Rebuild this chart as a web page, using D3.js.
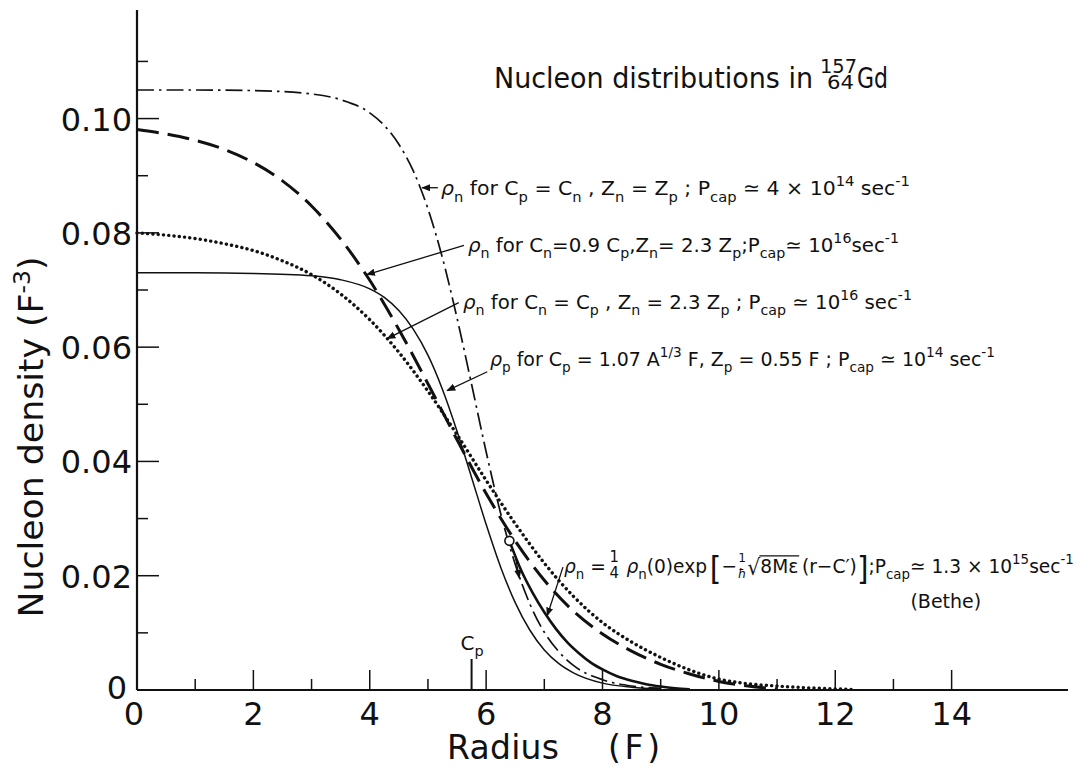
<!DOCTYPE html>
<html>
<head>
<meta charset="utf-8">
<script src="https://cdn.jsdelivr.net/npm/d3@7"></script>
<style>
  body { margin: 0; background: #fff; }
  svg { display: block; }
  text { font-family: "DejaVu Sans", sans-serif; fill: #111; }
</style>
</head>
<body>
<svg id="chart" width="1080" height="768"></svg>
<script>
// radius grid for the sharp (Z = 0.55 F) distributions
rSharp = [0, 1, 2, 3, 3.5, 4, 4.25, 4.5, 4.75, 5, 5.25, 5.5, 5.75, 6, 6.25, 6.5, 6.75, 7, 7.25, 7.5, 8, 8.5, 9]
// rho_n for Cn = Cp, Zn = Zp  (dash-dot)
rhoSame = [0.1050, 0.1050, 0.1049, 0.1043, 0.1033, 0.1010, 0.0988, 0.0955, 0.0908, 0.0842, 0.0756, 0.0651, 0.0535, 0.0417, 0.0309, 0.0220, 0.0151, 0.0101, 0.0067, 0.0043, 0.0018, 0.0007, 0.0003]
// rho_p  (thin solid)
rhoProton = [0.0730, 0.0730, 0.0729, 0.0725, 0.0718, 0.0702, 0.0687, 0.0664, 0.0631, 0.0586, 0.0526, 0.0453, 0.0372, 0.0290, 0.0215, 0.0153, 0.0105, 0.0070, 0.0046, 0.0030, 0.0012, 0.0005, 0.0002]

// rho_n for Cn = 0.9 Cp, Zn = 2.3 Zp  (long dash)
rShrunk = [0, 0.5, 1, 1.5, 2, 2.5, 3, 3.5, 4, 4.5, 5, 5.5, 6, 6.5, 7, 7.5, 8, 8.5, 9, 9.5, 10, 10.5, 11]
rhoShrunk = [0.0981, 0.0973, 0.0962, 0.0946, 0.0923, 0.0891, 0.0847, 0.0789, 0.0717, 0.0631, 0.0536, 0.0438, 0.0344, 0.0261, 0.0192, 0.0138, 0.0098, 0.0068, 0.0045, 0.0028, 0.0015, 0.0007, 0.0002]

// rho_n for Cn = Cp, Zn = 2.3 Zp  (dotted)
rDiffuse = [0, 0.5, 1, 1.5, 2, 2.5, 3, 3.5, 4, 4.5, 5, 5.5, 6, 6.5, 7, 7.5, 8, 8.5, 9, 9.5, 10, 10.5, 11, 11.5, 12, 12.3]
rhoDiffuse = [0.0800, 0.0796, 0.0790, 0.0781, 0.0769, 0.0751, 0.0727, 0.0693, 0.0648, 0.0591, 0.0523, 0.0447, 0.0367, 0.0291, 0.0222, 0.0164, 0.0118, 0.0084, 0.0057, 0.0035, 0.0019, 0.0011, 0.0007, 0.0004, 0.0002, 0.0001]

// Bethe exponential tail (thick solid)
rBethe = [6.4, 6.6, 6.8, 7.0, 7.2, 7.4, 7.6, 7.8, 8.0, 8.25, 8.5, 8.75, 9.0, 9.25, 9.5]
rhoBethe = [0.0261, 0.0210, 0.0170, 0.0136, 0.0107, 0.0083, 0.0064, 0.0048, 0.0036, 0.0024, 0.0016, 0.0010, 0.0006, 0.0003, 0.0001]

xTicks = [2, 4, 6, 8, 10, 12, 14]
xMinor = [1, 3, 5, 7, 9, 11, 13]
yTicks = [0.02, 0.04, 0.06, 0.08, 0.10]
yMinor = [0.01, 0.03, 0.05, 0.07, 0.09, 0.11]
yLabels = ["0.02", "0.04", "0.06", "0.08", "0.10"]
cpRadius = 5.75

svg = d3.select("#chart")
x = d3.scaleLinear().domain([0, 16]).range([137, 1068])
y = d3.scaleLinear().domain([0, 0.119]).range([690, 10])

defs = svg.append("defs")
defs.append("marker")
    .attr("id", "head")
    .attr("viewBox", "0 0 10 10")
    .attr("refX", 9).attr("refY", 5)
    .attr("markerWidth", 9).attr("markerHeight", 9)
    .attr("markerUnits", "userSpaceOnUse")
    .attr("orient", "auto")
  .append("path")
    .attr("d", "M0,1 L10,5 L0,9 z")
    .attr("fill", "#111");

// axes
const axes = svg.append("g").attr("stroke", "#111").attr("fill", "none");
axes.append("line")
    .attr("x1", x(0)).attr("x2", x(0))
    .attr("y1", y(0)).attr("y2", y(0.119))
    .attr("stroke-width", 2.2);
axes.append("line")
    .attr("x1", x(0)).attr("x2", x(16))
    .attr("y1", y(0)).attr("y2", y(0))
    .attr("stroke-width", 2.2);

axes.selectAll(".ymaj").data(yTicks).join("line")
    .attr("x1", x(0)).attr("x2", x(0) + 22)
    .attr("y1", function (d) { return y(d) }).attr("y2", function (d) { return y(d) })
    .attr("stroke-width", 1.5);
axes.selectAll(".ymin").data(yMinor).join("line")
    .attr("x1", x(0)).attr("x2", x(0) + 11)
    .attr("y1", function (d) { return y(d) }).attr("y2", function (d) { return y(d) })
    .attr("stroke-width", 1.5);
axes.selectAll(".xmaj").data(xTicks).join("line")
    .attr("x1", function (d) { return x(d) }).attr("x2", function (d) { return x(d) })
    .attr("y1", y(0)).attr("y2", y(0) - 20)
    .attr("stroke-width", 1.5);
axes.selectAll(".xmin").data(xMinor).join("line")
    .attr("x1", function (d) { return x(d) }).attr("x2", function (d) { return x(d) })
    .attr("y1", y(0)).attr("y2", y(0) - 11)
    .attr("stroke-width", 1.5);
axes.append("line")
    .attr("x1", x(cpRadius)).attr("x2", x(cpRadius))
    .attr("y1", y(0)).attr("y2", y(0) - 31)
    .attr("stroke-width", 2);

// tick labels
svg.selectAll(".ylab").data(yTicks).join("text")
    .attr("x", x(0) - 5).attr("y", function (d) { return y(d) + 12 })
    .attr("text-anchor", "end").attr("font-size", 32)
    .text(function (d, i) { return yLabels[i] });
svg.append("text")
    .attr("x", x(0) - 10).attr("y", y(0) + 9)
    .attr("text-anchor", "end").attr("font-size", 32).text("0");
svg.selectAll(".xlab").data([0].concat(xTicks)).join("text")
    .attr("x", function (d) { return x(d) - (d === 0 ? 3 : 0) })
    .attr("y", y(0) + 35)
    .attr("text-anchor", "middle").attr("font-size", 32)
    .text(function (d) { return d });

// axis titles
const xt = svg.append("text").attr("y", 759).attr("font-size", 33);
xt.append("tspan").attr("x", 447).attr("textLength", 112).text("Radius");
xt.append("tspan").attr("x", 608).attr("textLength", 52).text("(F)");

const yt = svg.append("text")
    .attr("transform", "translate(43,437) rotate(-90)")
    .attr("text-anchor", "middle").attr("font-size", 34)
    .attr("textLength", 361).attr("lengthAdjust", "spacingAndGlyphs");
yt.append("tspan").text("Nucleon density  (F");
yt.append("tspan").attr("dy", -13).attr("font-size", 23).text("-3");
yt.append("tspan").attr("dy", 13).text(")");

// curves
const line = d3.line().curve(d3.curveMonotoneX);
function curve(rs, vals, style) {
  const path = svg.append("path")
      .datum(rs.map(function (r, i) { return [x(r), y(vals[i])] }))
      .attr("d", line)
      .attr("fill", "none")
      .attr("stroke", "#111")
      .attr("stroke-width", style.w);
  if (style.dash) path.attr("stroke-dasharray", style.dash);
  if (style.cap) path.attr("stroke-linecap", style.cap);
  return path;
}
curve(rSharp, rhoProton, {w: 1.5});
curve(rSharp, rhoSame, {w: 1.7, dash: "17,5,2.5,5"});
curve(rShrunk, rhoShrunk, {w: 3, dash: "22,9"});
curve(rDiffuse, rhoDiffuse, {w: 3.4, dash: "0.1,5.2", cap: "round"});
curve(rBethe, rhoBethe, {w: 2.6});

svg.append("circle")
    .attr("cx", x(rBethe[0])).attr("cy", y(rhoBethe[0])).attr("r", 4.5)
    .attr("fill", "#fff").attr("stroke", "#111").attr("stroke-width", 1.6);

// arrows from labels to curves, in data units
arrows = [
  [[5.17, 0.0879], [4.90, 0.0879]],
  [[5.62, 0.0778], [3.95, 0.0727]],
  [[5.53, 0.0678], [4.30, 0.0615]],
  [[6.02, 0.0557], [5.33, 0.0524]],
  [[7.32, 0.0215], [7.05, 0.0130]],
  [[6.50, 0.0235], [6.57, 0.0196]]
];
svg.selectAll(".arrow").data(arrows).join("line")
    .attr("x1", function (d) { return x(d[0][0]) }).attr("y1", function (d) { return y(d[0][1]) })
    .attr("x2", function (d) { return x(d[1][0]) }).attr("y2", function (d) { return y(d[1][1]) })
    .attr("stroke", "#111").attr("stroke-width", 1.3)
    .attr("marker-end", "url(#head)");

// rich text: segments [text, mode]; mode n normal, b subscript, p superscript, g greek
function rich(sel, segs, size) {
  let shift = 0;
  segs.forEach(function (s) {
    const target = s[1] === "b" ? size * 0.32 : s[1] === "p" ? -size * 0.45 : 0;
    const t = sel.append("tspan")
        .attr("dy", target - shift)
        .attr("font-size", (s[1] === "b" || s[1] === "p") ? size * 0.72 : size)
        .text(s[0]);
    if (s[1] === "g") t.attr("font-style", "italic");
    shift = target;
  });
}

labels = [
  {x: 5.224, y: 0.0866, w: 469, segs: [["ρ","g"],["n","b"],["  for  C","n"],["p","b"],[" = C","n"],["n","b"],[" ,  Z","n"],["n","b"],[" = Z","n"],["p","b"],[" ;  P","n"],["cap","b"],["  ≃ 4 × 10","n"],["14","p"],["  sec","n"],["-1","p"]]},
  {x: 5.688, y: 0.0767, w: 431, segs: [["ρ","g"],["n","b"],[" for C","n"],["n","b"],["=0.9  C","n"],["p","b"],[",Z","n"],["n","b"],["= 2.3 Z","n"],["p","b"],[";P","n"],["cap","b"],["≃ 10","n"],["16","p"],["sec","n"],["-1","p"]]},
  {x: 5.602, y: 0.0667, w: 449, segs: [["ρ","g"],["n","b"],["  for  C","n"],["n","b"],[" = C","n"],["p","b"],[" ,  Z","n"],["n","b"],[" = 2.3 Z","n"],["p","b"],[" ;  P","n"],["cap","b"],[" ≃  10","n"],["16","p"],[" sec","n"],["-1","p"]]},
  {x: 6.066, y: 0.0567, w: 505, segs: [["ρ","g"],["p","b"],["  for  C","n"],["p","b"],[" = 1.07  A","n"],["1/3","p"],[" F,  Z","n"],["p","b"],[" = 0.55 F ;  P","n"],["cap","b"],[" ≃ 10","n"],["14","p"],[" sec","n"],["-1","p"]]}
];
labels.forEach(function (l) {
  const t = svg.append("text")
      .attr("x", x(l.x)).attr("y", y(l.y))
      .attr("textLength", l.w).attr("lengthAdjust", "spacingAndGlyphs");
  rich(t, l.segs, 20);
});

// title
title = svg.append("g").attr("class", "title");
title.append("text").attr("x", 494).attr("y", 88).attr("font-size", 29)
    .attr("textLength", 319).attr("lengthAdjust", "spacingAndGlyphs")
    .text("Nucleon  distributions  in");
title.append("text").attr("x", 820).attr("y", 73).attr("font-size", 20)
    .attr("textLength", 37).attr("lengthAdjust", "spacingAndGlyphs").text("157");
title.append("text").attr("x", 827).attr("y", 89).attr("font-size", 20)
    .attr("textLength", 27).attr("lengthAdjust", "spacingAndGlyphs").text("64");
title.append("text").attr("x", 857).attr("y", 88).attr("font-size", 29)
    .attr("textLength", 31).attr("lengthAdjust", "spacingAndGlyphs").text("Gd");

// Cp marker label
const cpl = svg.append("text").attr("x", x(cpRadius) - 11).attr("y", y(0) - 40);
rich(cpl, [["C","n"],["p","b"]], 20);

// Bethe formula, laid out piece by piece then squeezed to the reference width
const bx = x(7.338), by = y(0.0205);
const bethe = svg.append("g");
let cx = 0;
function piece(segs, size, gap) {
  const t = bethe.append("text").attr("x", cx).attr("y", 0);
  rich(t, segs, size);
  cx += t.node().getComputedTextLength() + (gap || 0);
  return t;
}
function frac(top, bottom, size, gap) {
  const a = bethe.append("text").attr("x", cx).attr("y", -11).attr("font-size", size).text(top);
  const b = bethe.append("text").attr("x", cx).attr("y", 5).attr("font-size", size).text(bottom);
  if (bottom === "ħ") b.attr("font-style", "italic");
  const w = Math.max(a.node().getComputedTextLength(), b.node().getComputedTextLength());
  a.attr("x", cx + (w - a.node().getComputedTextLength()) / 2);
  b.attr("x", cx + (w - b.node().getComputedTextLength()) / 2);
  cx += w + (gap || 0);
}
piece([["ρ","g"],["n","b"],[" = ","n"]], 20, 4);
frac("1", "4", 16, 8);
piece([["ρ","g"],["n","b"],["(0)exp","n"]], 20, 3);
const lb = bethe.append("text").attr("x", cx).attr("y", 6).attr("font-size", 32).text("[");
cx += lb.node().getComputedTextLength();
piece([["−","n"]], 20, 1);
frac("1", "ħ", 13, 1);
const sq = bethe.append("text").attr("x", cx).attr("y", 2).attr("font-size", 22).text("√");
cx += sq.node().getComputedTextLength();
const rad0 = cx;
piece([["8Mε","n"]], 20, 4);
bethe.append("line").attr("x1", rad0 - 1).attr("x2", cx - 3)
    .attr("y1", -17).attr("y2", -17).attr("stroke", "#111").attr("stroke-width", 1.3);
piece([["(r−C′)","n"]], 20, 0);
const rb = bethe.append("text").attr("x", cx).attr("y", 6).attr("font-size", 32).text("]");
cx += rb.node().getComputedTextLength();
piece([[";P","n"],["cap","b"],["≃ 1.3 × 10","n"],["15","p"],["sec","n"],["-1","p"]], 20, 0);
bethe.attr("transform", "translate(" + bx + "," + by + ") scale(" + (510 / cx) + ",1)");

svg.append("text").attr("x", x(13.9)).attr("y", y(0.01435))
    .attr("text-anchor", "middle").attr("font-size", 19).text("(Bethe)");
</script>
</body>
</html>
